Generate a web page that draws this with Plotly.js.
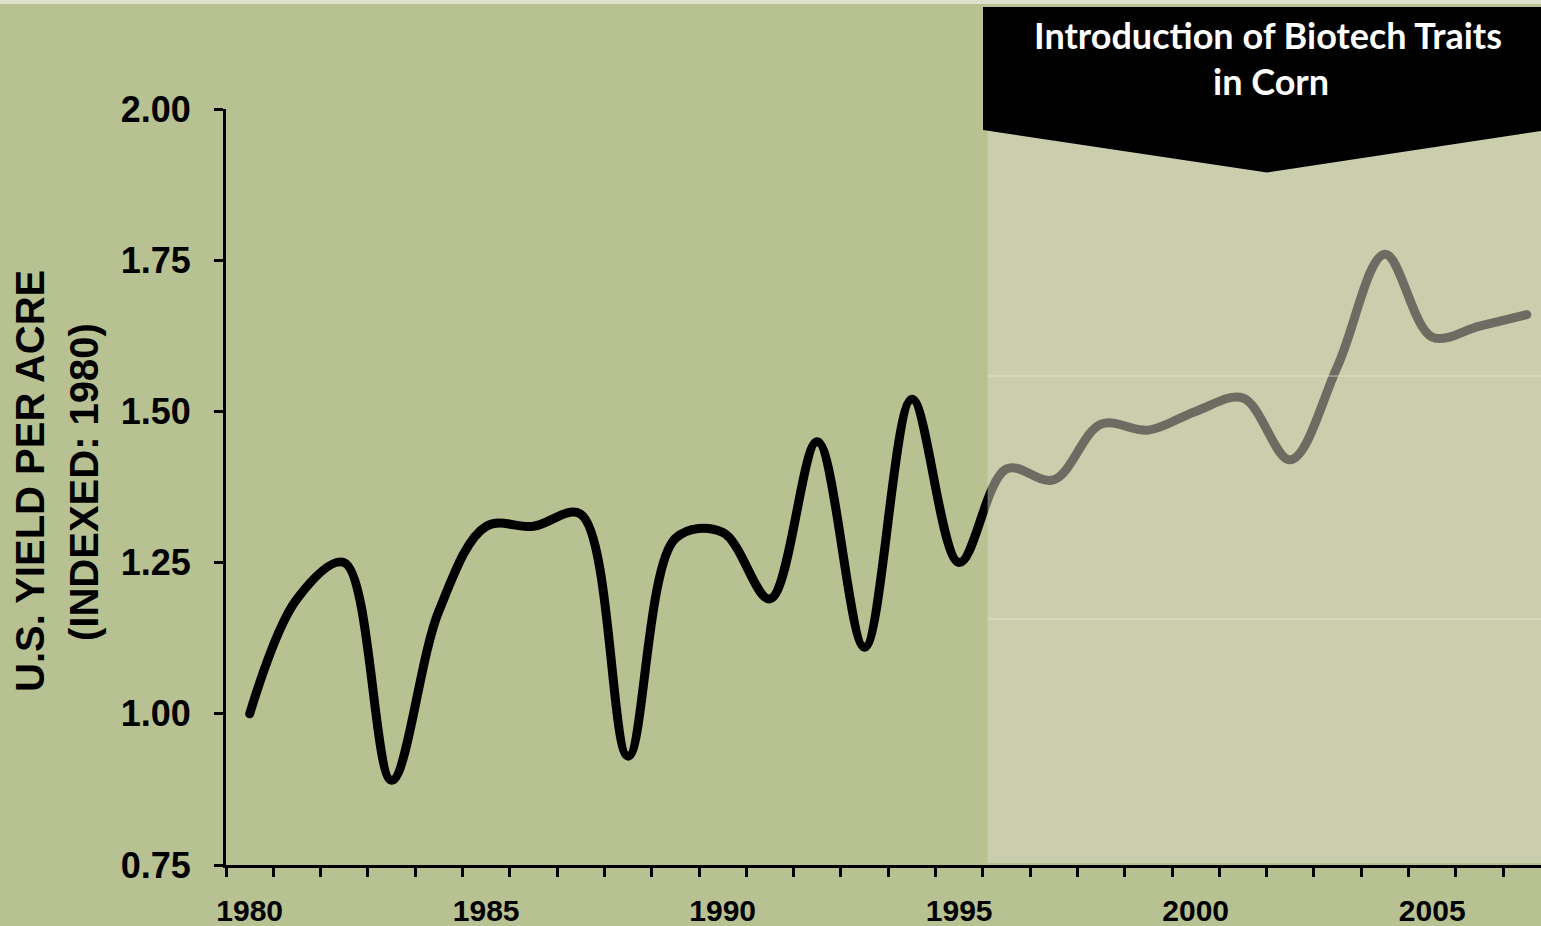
<!DOCTYPE html>
<html>
<head>
<meta charset="utf-8">
<script src="https://cdn.plot.ly/plotly-3.0.1.min.js"></script>
<style>
html,body{margin:0;padding:0;background:#b8c192;}
#chart{width:1541px;height:926px;}
.js-line{stroke-linecap:round !important;stroke-linejoin:round !important;}
</style>
</head>
<body>
<div id="chart"></div>
<script>
// Data
var years = [1980,1981,1982,1983,1984,1985,1986,1987,1988,1989,1990,1991,1992,1993,1994,1995,1996,1997,1998,1999,2000,2001,2002,2003,2004,2005,2006,2007];
var yieldIndex = [1.00,1.19,1.25,0.89,1.17,1.31,1.31,1.33,0.93,1.29,1.30,1.19,1.45,1.11,1.52,1.25,1.405,1.387,1.479,1.469,1.50,1.522,1.42,1.575,1.76,1.623,1.641,1.66];
var yTickVals = [0.75,1.00,1.25,1.50,1.75,2.00];
var xTickVals = [1980,1985,1990,1995,2000,2005];
var biotechStart = 1995.6;
var bannerLines = ["Introduction of Biotech Traits", "in Corn"];
var yTitleLines = ["U.S. YIELD PER ACRE", "(INDEXED: 1980)"];

// layout geometry helpers (pixel -> paper)
var W = 1541, H = 926, ML = 226, MR = 0, MT = 109, MB = 61;
var PW = W - ML - MR, PH = H - MT - MB;
function pxX(px){ return (px - ML) / PW; }
function pxY(py){ return (H - MB - py) / PH; }
var xMin = 1979.5, xMax = 2007.3;

var trace = {
  x: years, y: yieldIndex, type: 'scatter', mode: 'lines',
  line: {color: '#000000', width: 9, shape: 'spline', smoothing: 1},
  hoverinfo: 'x+y'
};

var axisFont = {family: '"Liberation Sans", Arial, sans-serif', color: '#000', weight: 'bold'};
var bannerFont = {family: 'Lato, "Open Sans", sans-serif', size: 36, color: '#fff', weight: 'bold'};

var layout = {
  width: W, height: H,
  margin: {l: ML, r: MR, t: MT, b: MB, pad: 0},
  paper_bgcolor: '#b8c192', plot_bgcolor: '#b8c192',
  showlegend: false,
  xaxis: {
    range: [xMin, xMax], tickmode: 'array', tickvals: xTickVals,
    ticks: '', showgrid: false, zeroline: false,
    showline: true, linecolor: '#000', linewidth: 3,
    tickfont: Object.assign({size: 30}, axisFont),
    ticklabelstandoff: 17,
    minor: {tickmode: 'linear', tick0: 1979.5, dtick: 1, ticks: 'outside', ticklen: 9, tickwidth: 3, tickcolor: '#000', showgrid: false}
  },
  yaxis: {
    range: [0.75, 2.0], tickmode: 'array', tickvals: yTickVals, tickformat: '.2f',
    ticks: 'outside', ticklen: 9, tickwidth: 3, tickcolor: '#000',
    showgrid: false, zeroline: false,
    showline: true, linecolor: '#000', linewidth: 3,
    tickfont: Object.assign({size: 36}, axisFont),
    ticklabelstandoff: 16
  },
  shapes: [
    // light top strip
    {type: 'rect', xref: 'paper', yref: 'paper', x0: pxX(0), x1: 1, y0: pxY(4), y1: pxY(0), fillcolor: '#dde0cb', line: {width: 0}, layer: 'below'},
    // biotech era overlay
    {type: 'rect', xref: 'x', yref: 'paper', x0: biotechStart, x1: xMax, y0: pxY(863), y1: pxY(120), fillcolor: 'rgb(220,221,200)', opacity: 0.49, line: {width: 0}, layer: 'above'},
    // faint artefact lines in overlay
    {type: 'line', xref: 'x', yref: 'paper', x0: biotechStart, x1: xMax, y0: pxY(376), y1: pxY(376), line: {color: 'rgba(232,234,218,0.7)', width: 1}, layer: 'above'},
    {type: 'line', xref: 'x', yref: 'paper', x0: biotechStart, x1: xMax, y0: pxY(619), y1: pxY(619), line: {color: 'rgba(232,234,218,0.7)', width: 1}, layer: 'above'},
    // black banner arrow
    {type: 'path', xref: 'paper', yref: 'paper',
     path: 'M ' + pxX(983) + ' ' + pxY(7) + ' L ' + pxX(1541) + ' ' + pxY(7) + ' L ' + pxX(1541) + ' ' + pxY(131) +
           ' L ' + pxX(1267) + ' ' + pxY(172.5) + ' L ' + pxX(983) + ' ' + pxY(130) + ' Z',
     fillcolor: '#000', line: {width: 0}, layer: 'above'}
  ],
  annotations: [
    {xref: 'paper', yref: 'paper', x: pxX(1268), y: pxY(35), xanchor: 'center', yanchor: 'middle', showarrow: false,
     text: bannerLines[0], font: bannerFont},
    {xref: 'paper', yref: 'paper', x: pxX(1271), y: pxY(81), xanchor: 'center', yanchor: 'middle', showarrow: false,
     text: bannerLines[1], font: bannerFont},
    {xref: 'paper', yref: 'paper', x: pxX(30), y: pxY(481), xanchor: 'center', yanchor: 'middle', showarrow: false, textangle: -90,
     text: yTitleLines[0], font: Object.assign({size: 40}, axisFont)},
    {xref: 'paper', yref: 'paper', x: pxX(84), y: pxY(482), xanchor: 'center', yanchor: 'middle', showarrow: false, textangle: -90,
     text: yTitleLines[1], font: Object.assign({size: 40}, axisFont)}
  ]
};

Plotly.newPlot('chart', [trace], layout, {displayModeBar: false, staticPlot: true});
</script>
</body>
</html>
